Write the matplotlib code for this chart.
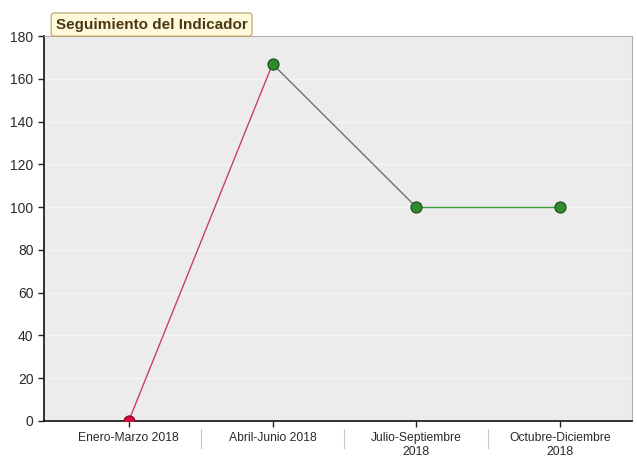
import numpy as np
import matplotlib.pyplot as plt
from matplotlib.transforms import blended_transform_factory

# datos del indicador
periodos = ['Enero-Marzo 2018', 'Abril-Junio 2018', 'Julio-Septiembre\n2018', 'Octubre-Diciembre\n2018']
valores = [0, 167, 100, 100]
colores_punto = ['#d0103a', '#2e8b2e', '#2e8b2e', '#2e8b2e']
colores_tramo = ['#c8406a', '#707070', '#3aa03a']

plt.rcParams['font.family'] = ['Liberation Sans', 'DejaVu Sans']

fig = plt.figure(figsize=(6.37, 4.58), dpi=100)
ax = fig.add_axes([0.069, 0.081, 0.923, 0.84])

x = np.arange(len(periodos))

# fondo gris con rejilla clara
ax.set_facecolor('#ececec')
ax.yaxis.grid(True, color='#f6f6f6', linewidth=1.0)
ax.set_axisbelow(True)

# tramos de la linea
for i in range(len(x) - 1):
    ax.plot(x[i:i+2], valores[i:i+2], color=colores_tramo[i], linewidth=1.0, zorder=3)

# puntos
for i in range(len(x)):
    ax.plot(x[i], valores[i], 'o', markersize=8, markerfacecolor=colores_punto[i],
            markeredgecolor='#1a4a1a' if i > 0 else '#8a0020', markeredgewidth=0.8,
            zorder=4, clip_on=True)

ax.set_xlim(-0.59, 3.5)
ax.set_ylim(0, 180)
ax.set_yticks(np.arange(0, 181, 20))
ax.set_xticks(x)
ax.set_xticklabels(periodos)

ax.tick_params(axis='both', labelcolor='#2a2a2a', color='#222222',
               length=4, width=1.0, direction='out')
ax.tick_params(axis='y', labelsize=10)
ax.tick_params(axis='x', labelsize=8.7, pad=4)

for s in ['left', 'bottom']:
    ax.spines[s].set_color('#111111')
    ax.spines[s].set_linewidth(1.2)
for s in ['top', 'right']:
    ax.spines[s].set_color('#b0b0b0')
    ax.spines[s].set_linewidth(0.8)

# separadores entre categorias
trans = blended_transform_factory(ax.transData, ax.transAxes)
for sep in [0.5, 1.5, 2.5]:
    ax.plot([sep, sep], [-0.02, -0.07], color='#c8c8c8', linewidth=0.8,
            transform=trans, clip_on=False)

# pestana del titulo
ax.text(0.02, 1.012, 'Seguimiento del Indicador', transform=ax.transAxes,
        fontsize=11, fontweight='bold', color='#4a3a12', ha='left', va='bottom',
        bbox=dict(boxstyle='round,pad=0.3,rounding_size=0.2', facecolor='#fff9dc',
                  edgecolor='#b8a060', linewidth=0.8))

fig.savefig('out.png', dpi=100)
